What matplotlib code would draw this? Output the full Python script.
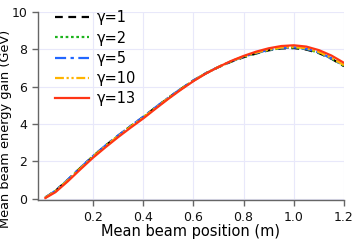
import matplotlib
matplotlib.use("Agg")
import matplotlib.pyplot as plt

x = [0.01, 0.05, 0.1, 0.15, 0.2, 0.25, 0.3, 0.35, 0.4, 0.45, 0.5, 0.55, 0.6,
     0.65, 0.7, 0.75, 0.8, 0.85, 0.9, 0.95, 1.0, 1.05, 1.1, 1.15, 1.2]
g1 = [0.07, 0.42, 1.02, 1.66, 2.28, 2.85, 3.38, 3.89, 4.38, 4.9, 5.4, 5.88, 6.33,
      6.72, 7.05, 7.34, 7.58, 7.78, 7.95, 8.05, 8.07, 7.99, 7.8, 7.5, 7.1]
g2 = [0.07, 0.42, 1.01, 1.65, 2.27, 2.84, 3.37, 3.88, 4.37, 4.89, 5.4, 5.88, 6.33,
      6.73, 7.06, 7.35, 7.6, 7.8, 7.96, 8.07, 8.1, 8.02, 7.82, 7.51, 7.12]
g5 = [0.07, 0.43, 1.03, 1.67, 2.29, 2.86, 3.39, 3.9, 4.39, 4.91, 5.41, 5.89, 6.34,
      6.73, 7.06, 7.36, 7.61, 7.81, 7.97, 8.08, 8.11, 8.03, 7.83, 7.52, 7.12]
g10 = [0.06, 0.4, 0.99, 1.63, 2.25, 2.82, 3.35, 3.86, 4.35, 4.87, 5.38, 5.86, 6.32,
       6.72, 7.06, 7.37, 7.62, 7.83, 7.99, 8.1, 8.13, 8.06, 7.86, 7.55, 7.15]
g13 = [0.04, 0.35, 0.94, 1.58, 2.2, 2.76, 3.3, 3.81, 4.3, 4.83, 5.35, 5.84, 6.3,
       6.71, 7.06, 7.38, 7.65, 7.88, 8.06, 8.18, 8.22, 8.15, 7.96, 7.67, 7.28]
labels = ["γ=1", "γ=2", "γ=5", "γ=10", "γ=13"]
xticks = [0.2, 0.4, 0.6, 0.8, 1.0, 1.2]
yticks = [0, 2, 4, 6, 8, 10]

fig = plt.figure(figsize=(3.54, 2.41), dpi=100)
ax = fig.add_axes([0.1068, 0.169, 0.865, 0.781])

styles = [
    dict(color="black", ls=(0, (3.5, 2.5))),
    dict(color="#1db31d", ls=(0, (1.2, 1.2))),
    dict(color="#2266ff", ls=(0, (5, 2, 1.5, 2))),
    dict(color="#ffb400", ls=(0, (4, 1.2, 1, 1.2, 1, 1.2))),
    dict(color="#ff3515", ls="-"),
]
for ys, lab, st in zip([g1, g2, g5, g10, g13], labels, styles):
    ax.plot(x, ys, lw=1.6, label=lab, **st)

ax.set_xlim(-0.02, 1.2)
ax.set_ylim(-0.08, 10)
ax.set_xticks(xticks)
ax.set_yticks(yticks)
ax.set_xticklabels([f"{v:.1f}" for v in xticks])
ax.grid(True, color="#e8e8fa", lw=0.8)
ax.set_axisbelow(True)
for s in ["top", "right"]:
    ax.spines[s].set_visible(False)
for s in ["left", "bottom"]:
    ax.spines[s].set_color("#666666")
    ax.spines[s].set_linewidth(1.0)
ax.tick_params(colors="#666666", labelcolor="#111111", labelsize=9, length=4, width=1, direction="out")
ax.set_xlabel("Mean beam position (m)", fontsize=10.5, labelpad=0)
ax.set_ylabel("Mean beam energy gain (GeV)", fontsize=9.3)
ax.yaxis.set_label_coords(-0.085, 0.38)
ax.legend(loc="upper left", frameon=False, fontsize=10.5, handlelength=2.3,
          handletextpad=0.55, labelspacing=0.35, borderaxespad=0.1,
          bbox_to_anchor=(0.0335, 1.047))

fig.savefig("out.png", dpi=100)
